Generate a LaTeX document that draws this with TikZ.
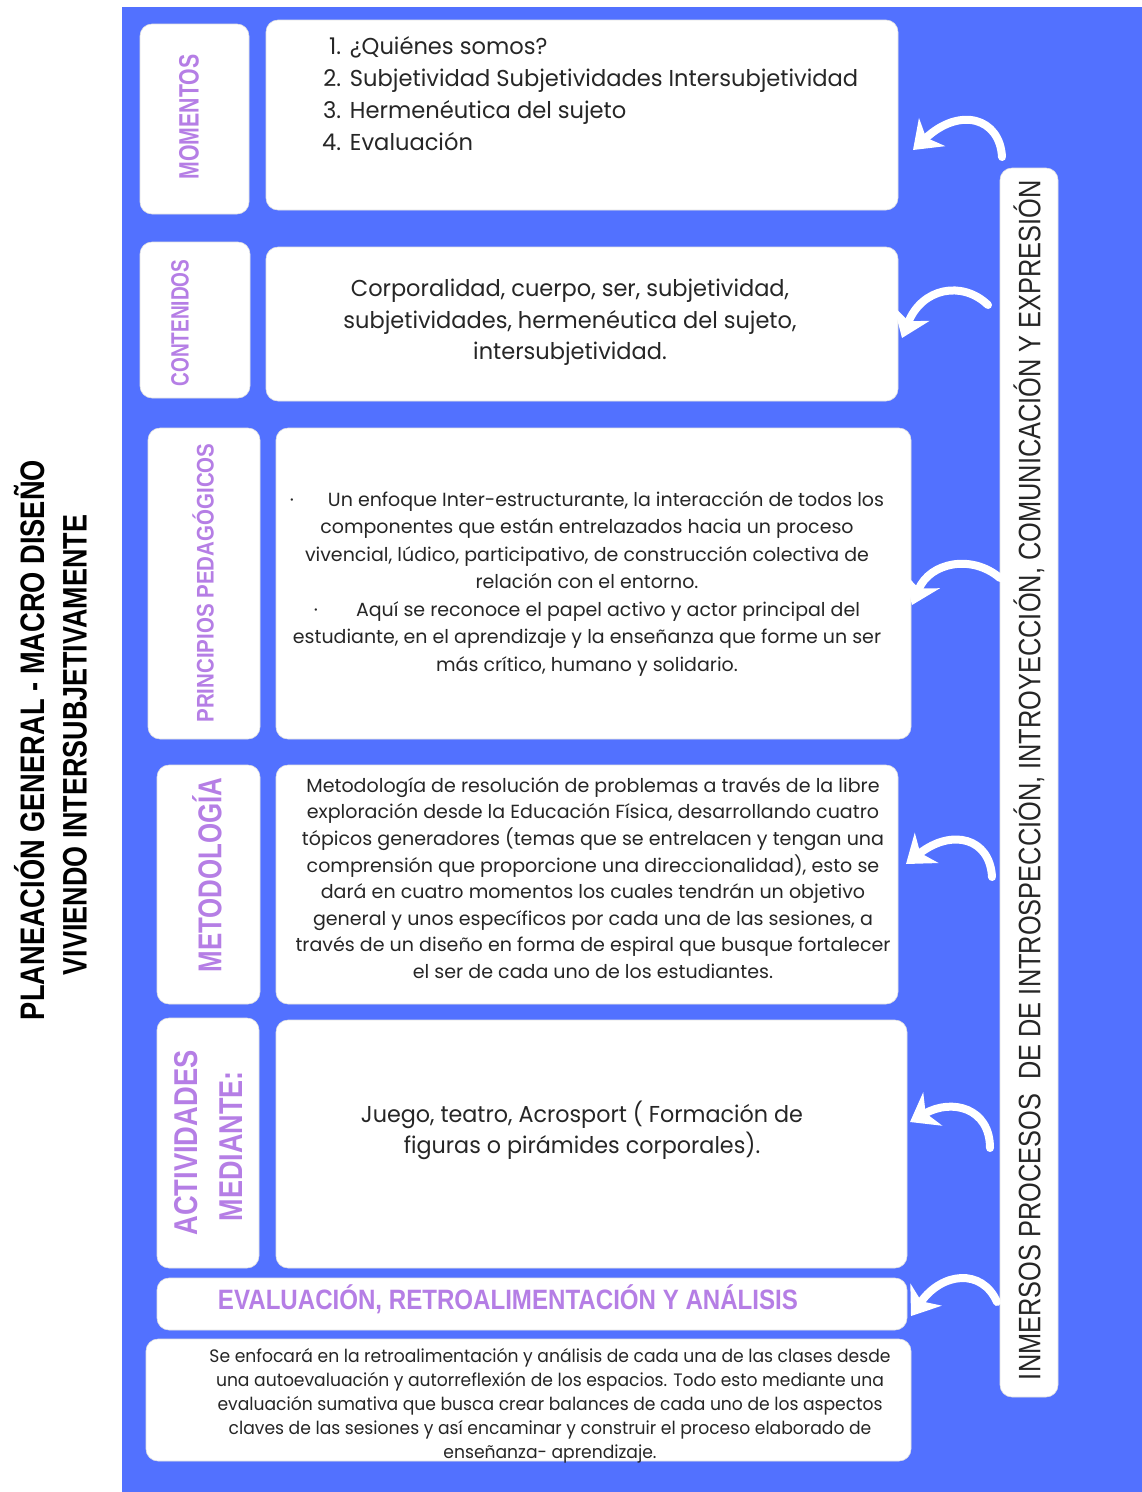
\documentclass[tikz,border=0pt]{standalone}
\usepackage{fontspec}
\setmainfont{Poppins}
\newfontfamily\labfont{Liberation Sans}
\usetikzlibrary{arrows.meta}
\definecolor{bgblue}{HTML}{5271FF}
\definecolor{lblpurple}{HTML}{B57EE5}
\newcommand\fitw[3]{\resizebox{#1}{\height}{\fontsize{#2}{#2}\selectfont #3}}
\newcommand\fitbody[4]{\resizebox{#1}{\height}{\fontsize{#2}{#3}\selectfont\begin{tabular}{@{}c@{}}#4\end{tabular}}}
\tikzset{
  card/.style={fill=white, rounded corners=12pt, draw=black!12, line width=0.6pt, inner sep=0pt},
  lbl/.style={rotate=90, text=lblpurple, inner sep=0pt, font=\labfont\bfseries},
  curl/.style={draw=white, line width=8pt, line cap=round, -{Stealth[length=26pt,width=38pt,inset=8pt]}},
  body/.style={align=center, inner sep=0pt, text=black!85},
}
\begin{document}
\begin{tikzpicture}[x=1pt,y=-1pt]
\fill[white] (0,0) rectangle (1142,1492);
\useasboundingbox (0,0) rectangle (1142,1492);
\fill[bgblue] (122,7) rectangle (1142,1492);

% title
\node[rotate=90, inner sep=0pt, font=\labfont\bfseries] (title1) at (30,740) {\fitw{560pt}{34}{PLANEACIÓN GENERAL - MACRO DISEÑO}};
\node[rotate=90, inner sep=0pt, font=\labfont\bfseries] (title2) at (75,745) {\fitw{460pt}{34}{VIVIENDO INTERSUBJETIVAMENTE}};

% cards
\node[card, minimum width=109pt, minimum height=190pt] (l1) at (194.5,119) {};
\node[card, minimum width=632pt, minimum height=190pt] (c1) at (582,115) {};
\node[card, minimum width=110pt, minimum height=156pt] (l2) at (195,320) {};
\node[card, minimum width=632pt, minimum height=154pt] (c2) at (582,324) {};
\node[card, minimum width=112pt, minimum height=311pt] (l3) at (204,583.5) {};
\node[card, minimum width=635pt, minimum height=311pt] (c3) at (593.5,583.5) {};
\node[card, minimum width=103pt, minimum height=239pt] (l4) at (208.5,884.5) {};
\node[card, minimum width=622pt, minimum height=239pt] (c4) at (587,884.5) {};
\node[card, minimum width=102pt, minimum height=250pt] (l5) at (208,1143) {};
\node[card, minimum width=631pt, minimum height=248pt] (c5) at (591.5,1144) {};
\node[card, minimum width=750pt, minimum height=52pt] (ev) at (532,1304) {};
\node[card, minimum width=765pt, minimum height=122pt] (c6) at (528.5,1400) {};
\node[card, minimum width=58pt, minimum height=1229pt] (side) at (1029,782.5) {};

% labels
\node[lbl] (t1) at (189,117) {\fitw{125pt}{28}{MOMENTOS}};
\node[lbl] (t2) at (180,323) {\fitw{127pt}{25}{CONTENIDOS}};
\node[lbl] (t3) at (203,583) {\fitw{279pt}{24}{PRINCIPIOS PEDAGÓGICOS}};
\node[lbl] (t4) at (207,875) {\fitw{195pt}{33}{METODOLOGÍA}};
\node[lbl] (t5a) at (186,1143) {\fitw{185pt}{33}{ACTIVIDADES}};
\node[lbl] (t5b) at (231,1146) {\fitw{150pt}{33}{MEDIANTE:}};
\node[lbl, rotate=-90] (t6) at (508,1299) {\fitw{580pt}{28}{EVALUACIÓN, RETROALIMENTACIÓN Y ANÁLISIS}};

% side text
\node[rotate=90, inner sep=0pt, font=\labfont, text=black!85] (sidetxt) at (1029,780) {\fitw{1200pt}{31}{INMERSOS PROCESOS\ \ DE DE INTROSPECCIÓN, INTROYECCIÓN, COMUNICACIÓN Y EXPRESIÓN}};

% body texts
\node[anchor=north west, inner sep=0pt, text=black!85] (list) at (322,32) {\resizebox{536pt}{\height}{\fontsize{23}{32}\selectfont\begin{tabular}{@{}r@{\hspace{9pt}}l@{}}1. & ¿Quiénes somos?\\ 2. & Subjetividad Subjetividades Intersubjetividad\\ 3. & Hermenéutica del sujeto\\ 4. & Evaluación\end{tabular}}};

\node[body] (b2) at (570,322) {\fitbody{453pt}{23}{31.5}{Corporalidad, cuerpo, ser, subjetividad,\\ subjetividades, hermenéutica del sujeto,\\ intersubjetividad.}};

\node[body] (b3) at (587,583) {\fitbody{594pt}{19}{27.5}{·\hspace{34pt}Un enfoque Inter-estructurante, la interacción de todos los\\ componentes que están entrelazados hacia un proceso\\ vivencial, lúdico, participativo, de construcción colectiva de\\ relación con el entorno.\\ ·\hspace{38pt}Aquí se reconoce el papel activo y actor principal del\\ estudiante, en el aprendizaje y la enseñanza que forme un ser\\ más crítico, humano y solidario.}};

\node[body] (b4) at (593,880) {\fitbody{595pt}{19}{26.6}{Metodología de resolución de problemas a través de la libre\\ exploración desde la Educación Física, desarrollando cuatro\\ tópicos generadores (temas que se entrelacen y tengan una\\ comprensión que proporcione una direccionalidad), esto se\\ dará en cuatro momentos los cuales tendrán un objetivo\\ general y unos específicos por cada una de las sesiones, a\\ través de un diseño en forma de espiral que busque fortalecer\\ el ser de cada uno de los estudiantes.}};

\node[body] (b5) at (582,1132) {\fitbody{442pt}{23}{31}{Juego, teatro, Acrosport ( Formación de\\ figuras o pirámides corporales).}};

\node[body] (b6) at (550,1406) {\fitbody{681pt}{18}{24}{Se enfocará en la retroalimentación y análisis de cada una de las clases desde\\ una autoevaluación y autorreflexión de los espacios. Todo esto mediante una\\ evaluación sumativa que busca crear balances de cada uno de los aspectos\\ claves de las sesiones y así encaminar y construir el proceso elaborado de\\ enseñanza- aprendizaje.}};

% curled arrows from the side bar towards each card
\coordinate (a1s) at (1002,157); \coordinate (a1e) at (913,150);
\coordinate (a2s) at (988,305);  \coordinate (a2e) at (902,338);
\coordinate (a3s) at (1000,578); \coordinate (a3e) at (912,605);
\coordinate (a4s) at (992,877);  \coordinate (a4e) at (906,864);
\coordinate (a5s) at (990,1148); \coordinate (a5e) at (910,1122);
\coordinate (a6s) at (997,1302); \coordinate (a6e) at (911,1316);
\draw[curl] (a1s) .. controls (1000,118) and (960,106) .. (a1e);
\draw[curl] (a2s) .. controls (962,280) and (922,288) .. (a2e);
\draw[curl] (a3s) .. controls (972,554) and (930,562) .. (a3e);
\draw[curl] (a4s) .. controls (990,838) and (952,828) .. (a4e);
\draw[curl] (a5s) .. controls (990,1108) and (952,1098) .. (a5e);
\draw[curl] (a6s) .. controls (982,1268) and (942,1272) .. (a6e);
\end{tikzpicture}
\end{document}
